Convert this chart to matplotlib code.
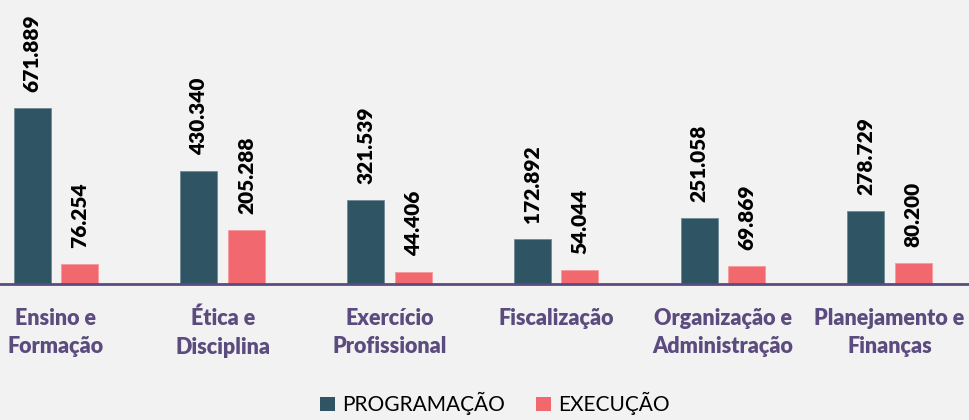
import matplotlib.pyplot as plt
import numpy as np
from matplotlib.patches import Patch

categories = ["Ensino e\nFormação", "Ética e\nDisciplina", "Exercício\nProfissional",
              "Fiscalização", "Organização e\nAdministração", "Planejamento e\nFinanças"]
programacao = [671.889, 430.340, 321.539, 172.892, 251.058, 278.729]
execucao = [76.254, 205.288, 44.406, 54.044, 69.869, 80.200]
series_names = ["PROGRAMAÇÃO", "EXECUÇÃO"]

C_PROG = "#2f5464"
C_EXEC = "#f2686f"
C_AXIS = "#5b4b7e"
BG = "#f2f2f2"
FONT = ["Lato", "DejaVu Sans"]

W, H = 970, 420
fig = plt.figure(figsize=(W / 100, H / 100), dpi=100, facecolor=BG)
base_px = 284
ax = fig.add_axes([0, 1 - base_px / H, 1, base_px / H])
ax.set_facecolor(BG)

x = np.arange(len(categories))
bw = 0.222
off = 0.1425
ax.bar(x - off, programacao, bw, color=C_PROG, edgecolor="#6f8a96", linewidth=0.6, zorder=2)
ax.bar(x + off, execucao, bw, color=C_EXEC, edgecolor="#f59a9e", linewidth=0.6, zorder=2)

def fmt(v):
    return f"{v:.3f}"

for xs, vals in ((x - off, programacao), (x + off, execucao)):
    for xi, v in zip(xs, vals):
        ax.annotate(fmt(v), (xi, v), xytext=(0, 16), textcoords="offset pixels",
                    rotation=90, ha="center", va="bottom", fontsize=15,
                    fontweight="heavy", family=FONT, color="black")

spacing = 166.7
ax.set_xlim(-56 / spacing, (W - 56) / spacing)
ax.set_ylim(0, base_px / 0.262)

for s in ["top", "right", "left"]:
    ax.spines[s].set_visible(False)
ax.spines["bottom"].set_color(C_AXIS)
ax.spines["bottom"].set_linewidth(2)
ax.set_yticks([])
ax.set_xticks(x)
ax.set_xticklabels(categories, fontsize=15.5, fontweight="heavy", family=FONT,
                   color=C_AXIS, linespacing=1.45, va="top")
ax.tick_params(axis="x", length=0, pad=17)

handles = [Patch(facecolor=C_PROG, label=series_names[0]),
           Patch(facecolor=C_EXEC, label=series_names[1])]
fig.legend(handles=handles, loc="lower center", bbox_to_anchor=(0.51, -0.033), ncol=2,
           frameon=False, prop={"family": FONT, "size": 15},
           handlelength=0.7, handleheight=0.7, handletextpad=0.35, columnspacing=1.5)

fig.savefig("out.png", dpi=100, facecolor=BG)
